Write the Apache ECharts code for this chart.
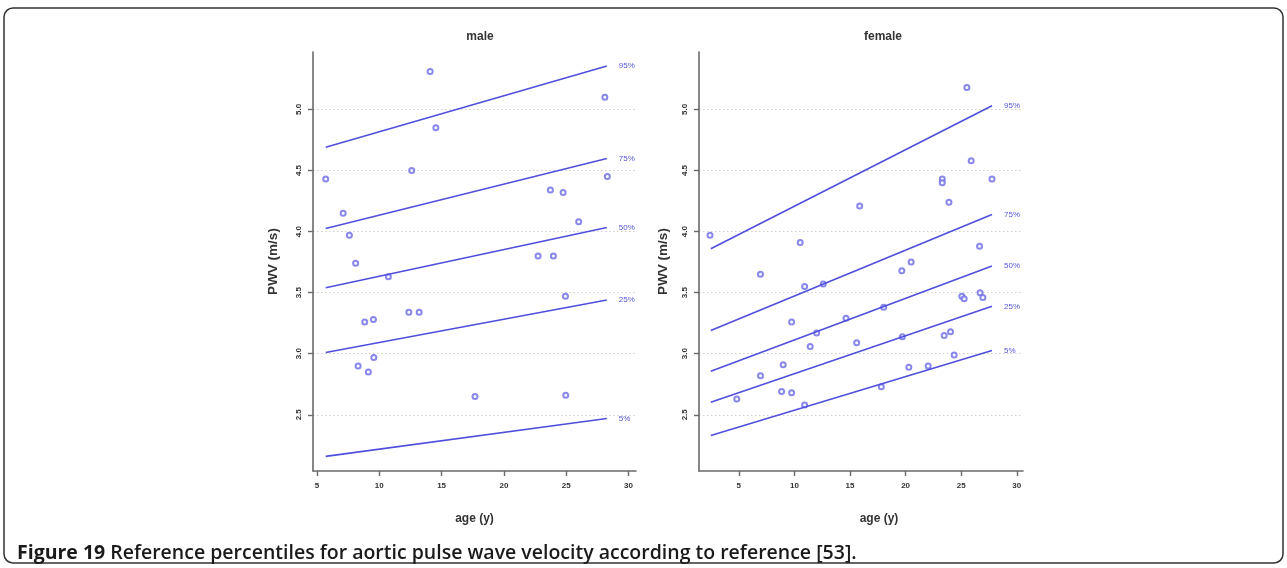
<!DOCTYPE html>
<html><head><meta charset="utf-8">
<script src="https://cdn.jsdelivr.net/npm/echarts@6/dist/echarts.min.js"></script>
<style>html,body{margin:0;padding:0;background:#fff;}#c{width:1287px;height:568px;}</style>
</head><body><div id="c"></div>
<script>
// ---- data ----
const panelTitles = ['male', 'female'];
const xTicks = [5, 10, 15, 20, 25, 30];
const yTicks = [2.5, 3.0, 3.5, 4.0, 4.5, 5.0];
const percentileNames = ['95%', '75%', '50%', '25%', '5%'];

const maleAge = [5.7, 14.08, 14.54, 12.6, 28.1, 28.3, 23.73, 24.75, 7.1, 7.6, 8.1, 10.73, 26.0, 22.74, 23.97, 24.94, 8.83, 9.53, 12.37, 13.2, 9.56, 8.3, 9.12, 17.68, 24.96];
const malePwv = [4.43, 5.31, 4.85, 4.50, 5.10, 4.45, 4.34, 4.32, 4.15, 3.97, 3.74, 3.63, 4.08, 3.80, 3.80, 3.47, 3.26, 3.28, 3.34, 3.34, 2.97, 2.90, 2.85, 2.65, 2.66];

const femaleAge = [25.51, 25.9, 23.3, 23.3, 27.77, 23.9, 15.87, 2.41, 10.52, 26.65, 6.95, 19.66, 20.5, 10.92, 12.6, 25.06, 25.27, 26.7, 26.95, 9.75, 14.64, 18.03, 12.0, 11.42, 15.6, 19.71, 23.47, 24.04, 24.37, 8.99, 20.29, 22.03, 6.95, 8.85, 9.75, 17.82, 4.82, 10.92];
const femalePwv = [5.18, 4.58, 4.43, 4.40, 4.43, 4.24, 4.21, 3.97, 3.91, 3.88, 3.65, 3.68, 3.75, 3.55, 3.57, 3.47, 3.45, 3.50, 3.46, 3.26, 3.29, 3.38, 3.17, 3.06, 3.09, 3.14, 3.15, 3.18, 2.99, 2.91, 2.89, 2.90, 2.82, 2.69, 2.68, 2.73, 2.63, 2.58];

// percentile lines: start/end age and values (95,75,50,25,5)
const maleLineAge = [5.7, 28.26];
const maleP95 = [4.69, 5.355];
const maleP75 = [4.025, 4.598];
const maleP50 = [3.54, 4.033];
const maleP25 = [3.01, 3.44];
const maleP5 = [2.16, 2.47];

const femaleLineAge = [2.48, 27.77];
const femaleP95 = [3.86, 5.03];
const femaleP75 = [3.19, 4.14];
const femaleP50 = [2.857, 3.718];
const femaleP25 = [2.603, 3.388];
const femaleP5 = [2.33, 3.027];

const captionBold = 'Figure 19';
const captionText = 'Reference percentiles for aortic pulse wave velocity according to reference [53].';

// ---- build ----
const blueLine = '#4f4fdc';
const bluePt = '#6a6ae6';
const axisCol = '#6a6a6a';
const panels = [
  {age: maleAge, pwv: malePwv, lineAge: maleLineAge, lines: [maleP95, maleP75, maleP50, maleP25, maleP5], xmin: 4.68, xmax: 30.6},
  {age: femaleAge, pwv: femalePwv, lineAge: femaleLineAge, lines: [femaleP95, femaleP75, femaleP50, femaleP25, femaleP5], xmin: 1.42, xmax: 30.56}
];
const grids = [
  {left: 313, top: 52, width: 323, height: 419},
  {left: 699, top: 52, width: 324, height: 419}
];
const xAxes = [], yAxes = [], series = [];
panels.forEach((p, i) => {
  xAxes.push({
    gridIndex: i, type: 'value', min: p.xmin, max: p.xmax,
    name: 'age (y)', nameLocation: 'middle', nameGap: 42,
    nameTextStyle: {fontFamily: 'Liberation Sans', fontWeight: 'bold', fontSize: 12, color: '#333', padding: i === 1 ? [0, 0, 0, 36] : 0},
    axisLine: {show: true, onZero: false, lineStyle: {color: axisCol, width: 1.6}},
    axisTick: {show: true, length: 5, customValues: xTicks, lineStyle: {color: axisCol, width: 1.4}},
    axisLabel: {customValues: xTicks, margin: 11, fontFamily: 'Liberation Sans', fontWeight: 'bold', fontSize: 8, color: '#333'},
    splitLine: {show: false}
  });
  yAxes.push({
    gridIndex: i, type: 'value', min: 2.04, max: 5.47,
    name: 'PWV (m/s)', nameLocation: 'middle', nameRotate: 90, nameGap: i === 0 ? 33 : 29,
    nameTextStyle: {fontFamily: 'Liberation Sans', fontWeight: 'bold', fontSize: 13.5, color: '#333'},
    axisLine: {show: true, onZero: false, lineStyle: {color: axisCol, width: 1.6}},
    axisTick: {show: true, length: 5, customValues: yTicks, lineStyle: {color: axisCol, width: 1.4}},
    axisLabel: {customValues: yTicks, rotate: 90, margin: 10, formatter: v => v.toFixed(1), fontFamily: 'Liberation Sans', fontWeight: 'bold', fontSize: 8, color: '#333'},
    splitLine: {show: true, lineStyle: {color: '#cfcfcf', type: [1.5, 2.5], width: 1.2}}
  });
  series.push({
    type: 'scatter', xAxisIndex: i, yAxisIndex: i,
    data: p.age.map((a, k) => [a, p.pwv[k]]),
    symbol: 'emptyCircle', symbolSize: 5,
    itemStyle: {color: bluePt, borderColor: bluePt, borderWidth: 1.3},
    silent: true
  });
  p.lines.forEach((vals, j) => {
    series.push({
      type: 'line', name: percentileNames[j], xAxisIndex: i, yAxisIndex: i,
      data: p.lineAge.map((a, k) => [a, vals[k]]),
      showSymbol: false, symbol: 'none',
      lineStyle: {color: blueLine, width: 1.6},
      endLabel: {show: true, formatter: percentileNames[j], distance: 12, color: '#5656e0', fontFamily: 'Liberation Sans', fontSize: 8},
      silent: true, animation: false
    });
  });
});

const chart = echarts.init(document.getElementById('c'), null, {renderer: 'canvas'});
chart.setOption({
  animation: false,
  backgroundColor: '#ffffff',
  title: [
    {text: panelTitles[0], left: 475, top: 26, textAlign: 'center', textStyle: {fontFamily: 'Liberation Sans', fontWeight: 'bold', fontSize: 12, color: '#333'}},
    {text: panelTitles[1], left: 878, top: 26, textAlign: 'center', textStyle: {fontFamily: 'Liberation Sans', fontWeight: 'bold', fontSize: 12, color: '#333'}},
    {text: '{b|' + captionBold + '} {n|' + captionText + '}', left: 12, top: 538,
     textStyle: {rich: {
       b: {fontFamily: 'Open Sans', fontWeight: 'bold', fontSize: 19.5, color: '#1a1a1a'},
       n: {fontFamily: 'Open Sans', fontWeight: 600, fontSize: 19.5, color: '#1a1a1a'}
     }}}
  ],
  graphic: [
    {type: 'rect', shape: {x: 4, y: 8, width: 1279, height: 555, r: 9}, style: {fill: 'none', stroke: '#333', lineWidth: 1.5}, silent: true}
  ],
  grid: grids,
  xAxis: xAxes,
  yAxis: yAxes,
  series: series
});
</script>
</body></html>
